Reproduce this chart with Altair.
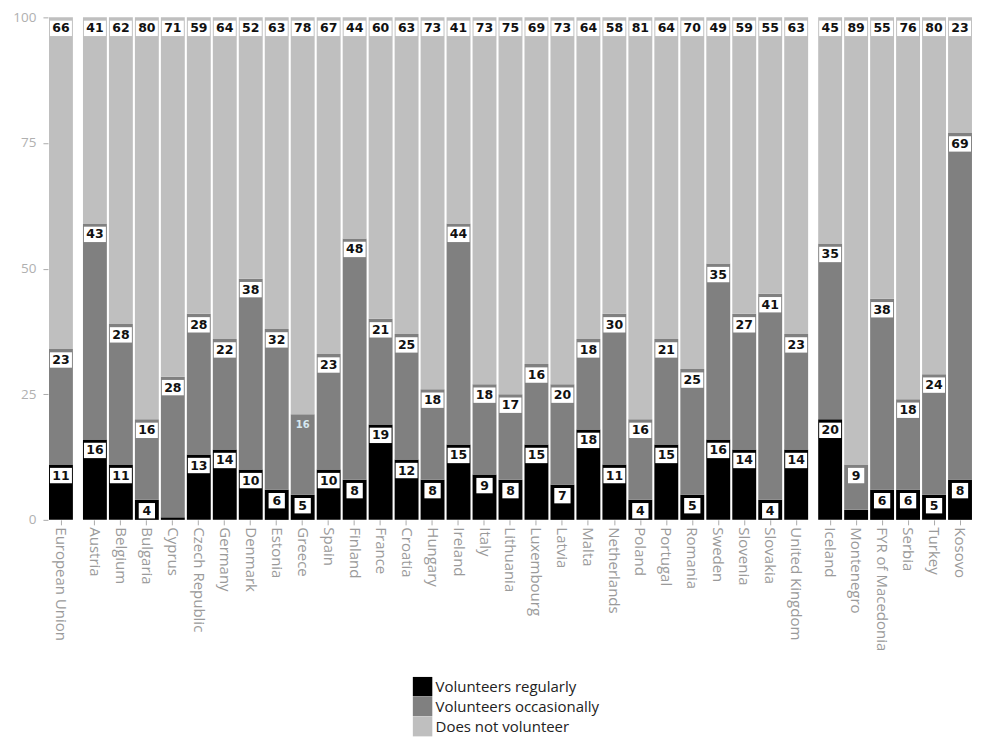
import altair as alt
import pandas as pd

# ---- data ----
eu_total = ["European Union"]
members = ["Austria", "Belgium", "Bulgaria", "Cyprus", "Czech Republic", "Germany",
           "Denmark", "Estonia", "Greece", "Spain", "Finland", "France", "Croatia",
           "Hungary", "Ireland", "Italy", "Lithuania", "Luxembourg", "Latvia", "Malta",
           "Netherlands", "Poland", "Portugal", "Romania", "Sweden", "Slovenia",
           "Slovakia", "United Kingdom"]
candidates = ["Iceland", "Montenegro", "FYR of Macedonia", "Serbia", "Turkey", "Kosovo"]

regular_eu = [11]
occasional_eu = [23]
never_eu = [66]

regular_members = [16, 11, 4, 0.5, 13, 14, 10, 6, 5, 10, 8, 19, 12, 8, 15, 9, 8, 15,
                   7, 18, 11, 4, 15, 5, 16, 14, 4, 14]
occasional_members = [43, 28, 16, 28, 28, 22, 38, 32, 16, 23, 48, 21, 25, 18, 44, 18,
                      17, 16, 20, 18, 30, 16, 21, 25, 35, 27, 41, 23]
never_members = [41, 62, 80, 71, 59, 64, 52, 63, 78, 67, 44, 60, 63, 73, 41, 73, 75,
                 69, 73, 64, 58, 81, 64, 70, 49, 59, 55, 63]

regular_cand = [20, 2, 6, 6, 5, 8]
occasional_cand = [35, 9, 38, 18, 24, 69]
never_cand = [45, 89, 55, 76, 80, 23]

series_names = ["Volunteers regularly", "Volunteers occasionally", "Does not volunteer"]
series_colors = ["#000000", "#808080", "#bfbfbf"]

BOX2 = "M-1,-0.7L1,-0.7L1,0.7L-1,0.7Z"
BOX1 = "M-0.74,-0.7L0.74,-0.7L0.74,0.7L-0.74,0.7Z"


def build_frame(countries, reg, occ, nev):
    rows = []
    for i, c in enumerate(countries):
        for k, (s, v) in enumerate(zip(series_names, [reg[i], occ[i], nev[i]])):
            rows.append({"country": c, "series": s, "value": v, "order": k})
    return pd.DataFrame(rows)


def panel(countries, reg, occ, nev, show_axis):
    df = build_frame(countries, reg, occ, nev)
    yaxis = alt.Axis(title=None, values=[0, 25, 50, 75, 100], labelColor="#b0b0b0",
                     labelFont="Open Sans", labelFontSize=13.5, tickColor="#aaaaaa",
                     tickSize=5, domain=False, grid=False, labelPadding=7) if show_axis else None
    x = alt.X("country:N", sort=countries,
              scale=alt.Scale(paddingInner=0.08, paddingOuter=0.04),
              axis=alt.Axis(title=None, labelAngle=90, labelColor="#9a9a9a",
                            labelFont="Open Sans", labelFontSize=15, tickColor="#aaaaaa",
                            tickSize=5, domain=False, labelPadding=2, labelLimit=200))
    base = alt.Chart(df).transform_window(
        cum="sum(value)", sort=[alt.SortField("order")], groupby=["country"],
        frame=[None, 0]
    ).transform_calculate(
        top="datum.series == 'Does not volunteer' ? 100 : datum.cum",
        bottom="datum.cum - datum.value",
        special="datum.country == 'Greece' && datum.series == 'Volunteers occasionally'",
    )
    bars = base.mark_bar().encode(
        x=x,
        y=alt.Y("bottom:Q", scale=alt.Scale(domain=[0, 100], nice=False), axis=yaxis),
        y2="top:Q",
        color=alt.Color("series:N",
                        scale=alt.Scale(domain=series_names, range=series_colors),
                        legend=alt.Legend(title=None, orient="none", legendX=365,
                                          legendY=660, symbolType="square",
                                          symbolSize=380, symbolStrokeWidth=0,
                                          labelFont="Open Sans", labelFontSize=15,
                                          labelColor="#222222", rowPadding=0,
                                          labelOffset=3, labelLimit=300)),
        order=alt.Order("order:Q"),
    )
    labels = base.transform_filter("datum.value >= 3")
    boxes = labels.transform_filter("!datum.special").mark_point(
        filled=True, color="white", opacity=1, yOffset=11, strokeWidth=0
    ).encode(
        x=x,
        y=alt.Y("top:Q"),
        shape=alt.condition("datum.value >= 10", alt.value(BOX2), alt.value(BOX1)),
        size=alt.value(484),
    )
    texts = labels.mark_text(yOffset=11, baseline="middle", align="center",
                             font="DejaVu Sans", fontWeight="bold").encode(
        x=x,
        y=alt.Y("top:Q"),
        text=alt.Text("value:Q", format="d"),
        color=alt.condition("datum.special", alt.value("#d6e8ef"), alt.value("#111111")),
        size=alt.condition("datum.special", alt.value(10), alt.value(12.5)),
    )
    return alt.layer(bars, boxes, texts).properties(width=alt.Step(26), height=503)


p1 = panel(eu_total, regular_eu, occasional_eu, never_eu, True)
p2 = panel(members, regular_members, occasional_members, never_members, False)
p3 = panel(candidates, regular_cand, occasional_cand, never_cand, False)

chart = alt.hconcat(p1, p2, p3, spacing=8).resolve_scale(
    color="shared"
).properties(
    padding={"left": 4, "top": 2, "right": 0, "bottom": 0}
).configure_view(stroke=None)

chart.save("out.html", embed_options={"renderer": "svg", "actions": False})
